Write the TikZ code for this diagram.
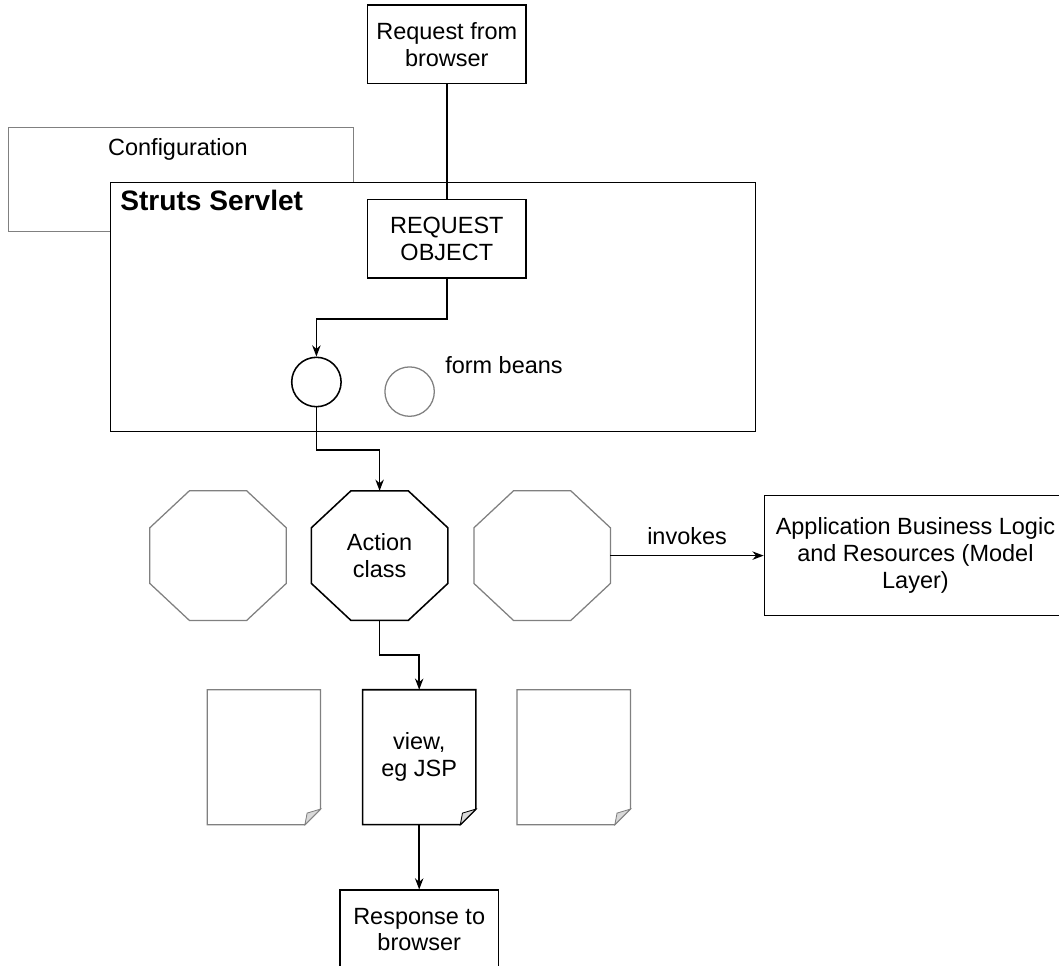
\documentclass[tikz,border=0pt]{standalone}
\usepackage{fontspec}
\setmainfont{Liberation Sans}
\usetikzlibrary{arrows.meta,positioning}
\definecolor{faint}{gray}{0.5}
\definecolor{foldgray}{gray}{0.85}

\begin{document}
\begin{tikzpicture}[
      every node/.style={font=\fontsize{16.7}{19}\selectfont},
      box/.style={draw, rectangle, line width=1.1pt, minimum width=3.97cm, minimum height=1.96cm, align=center, inner sep=0pt},
      bean/.style={draw, circle, minimum size=1.235cm, inner sep=0pt},
      octa/.style={rectangle, minimum width=3.4cm, minimum height=3.225cm, align=center, inner sep=0pt},
      doc/.style={rectangle, minimum width=2.82cm, minimum height=3.36cm, align=center, inner sep=0pt},
      keyline/.style={draw=black, line width=1.1pt},
      dim/.style={draw=faint, line width=0.9pt},
      lbl/.style={inner sep=0pt},
      arr/.style={-{Stealth[length=2.8mm, width=2.1mm, inset=0.9mm]}, line width=1.1pt}
    ]
    \useasboundingbox (0,0) rectangle (26.475,-24.125);

    % configuration sits behind the servlet
    \node[dim, rectangle, minimum width=8.635cm, minimum height=2.6cm] (config) at (4.525,-4.49) {};
    \node[lbl, anchor=base] (configlbl) at (4.45,-3.875) {Configuration};
    \node[keyline, rectangle, fill=white, minimum width=16.135cm, minimum height=6.225cm] (servlet) at (10.825,-7.68) {};
    \node[lbl, anchor=base west, font=\fontsize{20}{22}\selectfont\bfseries] (servletlbl) at (3.0,-5.2675) {Struts Servlet};

    \node[box] (reqobj) at (11.17,-5.97) {REQUEST\\OBJECT};
    \node[box] (req) [above=2.86cm of reqobj] {Request from\\browser};

    \node[bean, keyline] (bean) at (7.91,-9.55) {};
    \node[bean, dim] (bean2) at (10.24,-9.79) {};
    \node[lbl, anchor=base west] (beanlbl) at (11.125,-9.33) {form beans};

    % action classes
    \node[octa] (action) at (9.49,-13.89) {Action\\class};
    \node[octa] (octl) [left=0.625cm of action] {};
    \node[octa] (octr) [right=0.65cm of action] {};
    \foreach \o/\s in {octl/dim, action/keyline, octr/dim}
      \draw[\s] ([xshift=0.99cm]\o.north west) -- ([xshift=-0.99cm]\o.north east)
        -- ([yshift=-0.925cm]\o.north east) -- ([yshift=0.925cm]\o.south east)
        -- ([xshift=-0.99cm]\o.south east) -- ([xshift=0.99cm]\o.south west)
        -- ([yshift=0.925cm]\o.south west) -- ([yshift=-0.925cm]\o.north west) -- cycle;
    \node[box, minimum width=7.55cm, minimum height=3.0cm] (app) [right=3.83cm of octr] {Application Business Logic\\and Resources (Model\\Layer)};

    % views
    \node[doc] (view) at (10.48,-18.93) {view,\\eg JSP};
    \node[doc] (docl) [left=1.05cm of view] {};
    \node[doc] (docr) [right=1.03cm of view] {};
    \foreach \d/\s in {docl/dim, view/keyline, docr/dim}{
      \draw[\s] (\d.north west) -- (\d.north east) -- ([yshift=0.39cm]\d.south east)
        -- ([xshift=-0.39cm]\d.south east) -- (\d.south west) -- cycle;
      \draw[\s, fill=foldgray, line width=0.6pt] ([yshift=0.39cm]\d.south east)
        -- ([xshift=-0.335cm, yshift=0.29cm]\d.south east) -- ([xshift=-0.39cm]\d.south east) -- cycle;
    }

    \node[box] (resp) [below=1.62cm of view] {Response to\\browser};

    \draw[keyline] (req) -- (reqobj);
    \draw[arr] (reqobj.south) -- ++(0,-1) -| (bean.north);
    \draw[arr] (bean.south) -- ++(0,-1.06) -| (action.north);
    \draw[arr] (octr) -- (app) node[midway, above=0.13cm] {invokes};
    \draw[arr] (action.south) -- ++(0,-0.87) -| (view.north);
    \draw[arr] (view) -- (resp);
  \end{tikzpicture}
\end{document}
